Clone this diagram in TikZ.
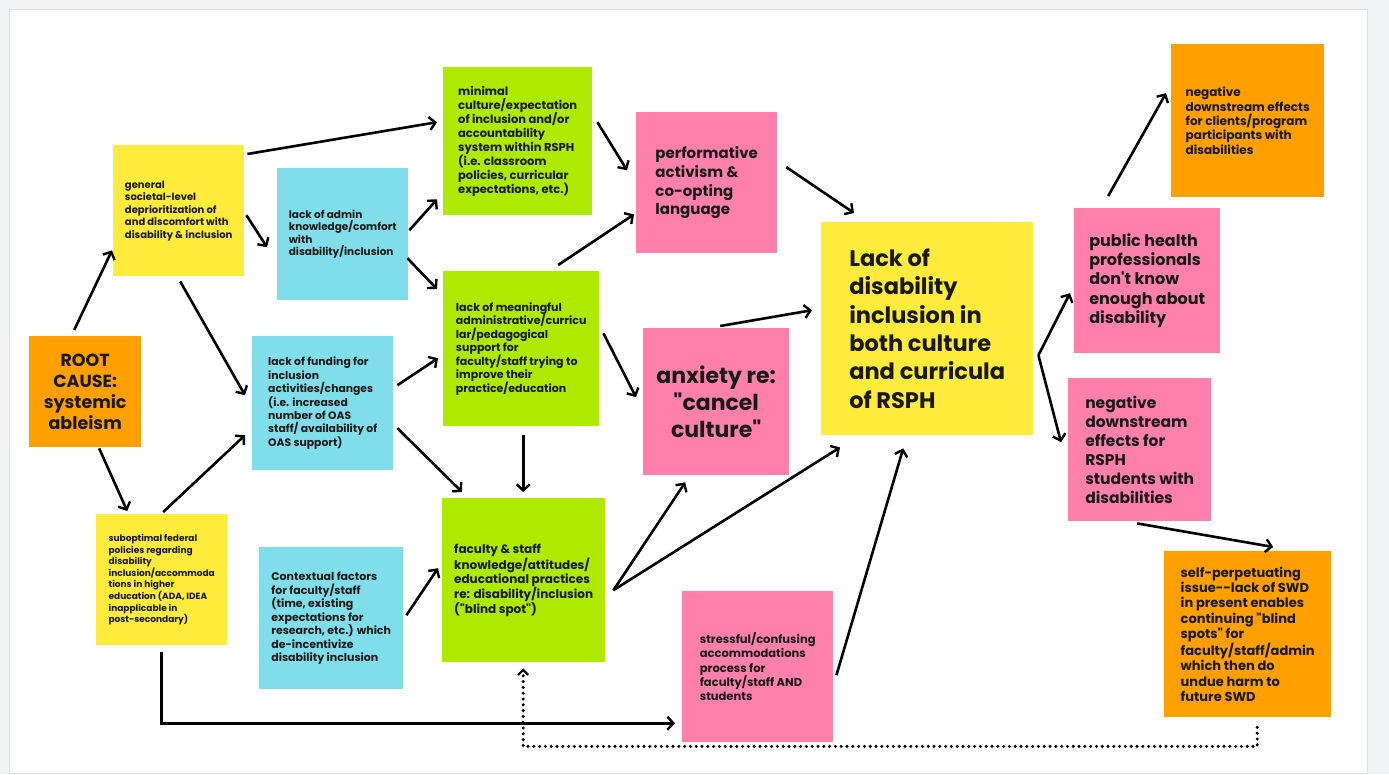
\documentclass[tikz,border=0pt]{standalone}
\usepackage{fontspec}
\setmainfont{Poppins}
\usetikzlibrary{arrows.meta,calc}
\definecolor{noteyellow}{RGB}{255,235,59}
\definecolor{notecyan}{RGB}{128,222,234}
\definecolor{notelime}{RGB}{174,234,0}
\definecolor{notepink}{RGB}{255,128,171}
\definecolor{noteorange}{RGB}{255,160,0}
\definecolor{pagegray}{RGB}{241,243,244}
\tikzset{
  note/.style={anchor=north west, inner sep=0pt, align=left, text=black!90},
  yellownote/.style={note, fill=noteyellow},
  cyannote/.style={note, fill=notecyan},
  limenote/.style={note, fill=notelime},
  pinknote/.style={note, fill=notepink},
  orangenote/.style={note, fill=noteorange},
  arr/.style={-{Straight Barb[length=6pt,width=13pt,line width=2.4pt]}, line width=2.6pt},
  dotarr/.style={-{Straight Barb[length=5pt,width=10pt,line width=2.2pt]},
    line width=3.4pt, line cap=round, dash pattern=on 0pt off 5.8pt},
}
\newcommand{\fsz}[2]{\fontsize{#1}{#2}\selectfont\bfseries}
\newcommand{\qt}{\textquotedbl}

\begin{document}
\begin{tikzpicture}[x=1pt, y=-1pt]
  \useasboundingbox (0,0) rectangle (1389,774);
  \fill[pagegray] (0,0) rectangle (1389,774);
  \filldraw[fill=white, draw=black!12] (9,9) rectangle (1367,773);

  % left column
  \node[orangenote, minimum width=112, minimum height=111, align=center,
        font=\fsz{17.5}{21}] (root) at (29,336) {ROOT\\CAUSE:\\systemic\\ableism};
  \node[yellownote, minimum width=131, minimum height=131, font=\fsz{10}{12.5}]
    (general) at (113,145) {general\\societal-level\\deprioritization of\\and discomfort with\\disability \& inclusion};
  \node[yellownote, minimum width=131, minimum height=131, font=\fsz{9}{11.6}]
    (federal) at (96,514) {suboptimal federal\\policies regarding\\disability\\inclusion/accommoda\\tions in higher\\education (ADA, IDEA\\inapplicable in\\post-secondary)};

  % blue notes
  \node[cyannote, minimum width=131, minimum height=132, font=\fsz{10.5}{12.5}]
    (admin) at (277,168) {lack of admin\\knowledge/comfort\\with\\disability/inclusion};
  \node[cyannote, minimum width=141, minimum height=134, font=\fsz{10.8}{13.4}]
    (funding) at (252,336) {lack of funding for\\inclusion\\activities/changes\\(i.e. increased\\number of OAS\\staff/ availability of\\OAS support)};
  \node[cyannote, minimum width=144, minimum height=142, font=\fsz{11}{13.5}]
    (contextual) at (259,547) {Contextual factors\\for faculty/staff\\(time, existing\\expectations for\\research, etc.) which\\de-incentivize\\disability inclusion};

  % green notes
  \node[limenote, minimum width=149, minimum height=148, font=\fsz{11.5}{14}]
    (minimal) at (443,67) {minimal\\culture/expectation\\of inclusion and/or\\accountability\\system within RSPH\\(i.e. classroom\\policies, curricular\\expectations, etc.)};
  \node[limenote, minimum width=156, minimum height=155, font=\fsz{11}{13.5}]
    (meaningful) at (443,271) {lack of meaningful\\administrative/curricu\\lar/pedagogical\\support for\\faculty/staff trying to\\improve their\\practice/education};
  \node[limenote, minimum width=163, minimum height=164, font=\fsz{12}{14.3}]
    (faculty) at (442,498) {faculty \& staff\\knowledge/attitudes/\\educational practices\\re: disability/inclusion\\(\qt blind spot\qt)};

  % pink notes
  \node[pinknote, minimum width=141, minimum height=141, font=\fsz{15}{18.7}]
    (performative) at (636,112) {performative\\activism \&\\co-opting\\language};
  \node[pinknote, minimum width=146, minimum height=147, align=center, font=\fsz{22}{26.7}]
    (anxiety) at (643,328) {anxiety re:\\\qt cancel\\culture\qt};
  \node[pinknote, minimum width=151, minimum height=151, font=\fsz{11.5}{14.3}]
    (stressful) at (682,591) {stressful/confusing\\accommodations\\process for\\faculty/staff AND\\students};

  \node[yellownote, minimum width=212, minimum height=213, font=\fsz{22.5}{28.3}]
    (central) at (821,222) {Lack of\\disability\\inclusion in\\both culture\\and curricula\\of RSPH};

  % right column
  \node[pinknote, minimum width=146, minimum height=145, font=\fsz{16}{19.3}]
    (public) at (1074,208) {public health\\professionals\\don\textquotesingle t know\\enough about\\disability};
  \node[pinknote, minimum width=143, minimum height=143, font=\fsz{15.5}{19}]
    (negrsph) at (1068,378) {negative\\downstream\\effects for\\RSPH\\students with\\disabilities};
  \node[orangenote, minimum width=153, minimum height=153, font=\fsz{12}{14.4}]
    (clients) at (1171,44) {negative\\downstream effects\\for clients/program\\participants with\\disabilities};
  \node[orangenote, minimum width=167, minimum height=166, font=\fsz{13}{15.4}]
    (selfperp) at (1164,551) {self-perpetuating\\issue-{}-lack of SWD\\in present enables\\continuing \qt blind\\spots\qt{} for\\faculty/staff/admin\\which then do\\undue harm to\\future SWD};

  % arrows
  \draw[arr] ($(root.north)+(-11,-6)$) -- ($(general.south west)+(-1,-26)$);
  \draw[arr] ($(root.south)+(14,1)$) -- ($(federal.north)+(-34.5,-3)$);
  \draw[arr] ($(general.north east)+(3,9)$) -- ($(minimal.west)+(-6,-19)$);
  \draw[arr] ($(general.east)+(2,4.5)$) -- ($(admin.west)+(-10,13)$);
  \draw[arr] ($(general.south)+(1.5,5)$) -- ($(funding.west)+(-7,-8)$);
  \draw[arr] ($(federal.north)+(1.5,-2)$) -- ($(funding.west)+(-7,32)$);
  \draw[arr] ($(federal.south)+(-0.5,7)$) |- ($(stressful.west)+(-7,56.5)$);
  \draw[arr] ($(admin.east)+(1,-4)$) -- ($(minimal.south west)+(-6,-16)$);
  \draw[arr] ($(admin.east)+(-1,24)$) -- ($(meaningful.north west)+(-6,18)$);
  \draw[arr] ($(funding.east)+(4,-18)$) -- ($(meaningful.west)+(-5,9.5)$);
  \draw[arr] ($(funding.east)+(4,25)$) -- ($(faculty.north west)+(20,-6)$);
  \draw[arr] ($(contextual.east)+(3,-3)$) -- ($(faculty.west)+(-4,-12)$);
  \draw[arr] ($(minimal.east)+(5,-19)$) -- ($(performative.west)+(-9,-12.5)$);
  \draw[arr] ($(meaningful.north)+(37,-6)$) -- ($(performative.south west)+(-2,-39)$);
  \draw[arr] ($(meaningful.east)+(4,-15.5)$) -- ($(anxiety.west)+(-7,-4.5)$);
  \draw[arr] ($(meaningful.south)+(2,9)$) -- ($(faculty.north)+(-0.5,-6)$);
  \draw[arr] ($(faculty.east)+(8,10)$) -- ($(anxiety.south)+(-31,7)$);
  \draw[arr] ($(faculty.east)+(8,10)$) -- ($(central.south west)+(19,12)$);
  \draw[arr] ($(performative.east)+(9,-15.5)$) -- ($(central.north west)+(33,-9)$);
  \draw[arr] ($(anxiety.north)+(4,-2)$) -- ($(central.west)+(-9,-18.5)$);
  \draw[arr] ($(stressful.east)+(3,8.5)$) -- ($(central.south)+(-24,13)$);
  \draw[arr] ($(central.east)+(5,26.5)$) -- ($(public.west)+(-4,12.5)$);
  \draw[arr] ($(central.east)+(5,26.5)$) -- ($(negrsph.west)+(-7,-7.5)$);
  \draw[arr] ($(public.north)+(-39,-12)$) -- ($(clients.west)+(-5,-27.5)$);
  \draw[arr] ($(negrsph.south)+(-2.5,2)$) -- ($(selfperp.north)+(25.5,-4)$);
  \draw[dotarr] ($(selfperp.south)+(9.5,10)$) -- ++(0,19) -| ($(faculty.south)+(-0.5,6)$);
\end{tikzpicture}
\end{document}
